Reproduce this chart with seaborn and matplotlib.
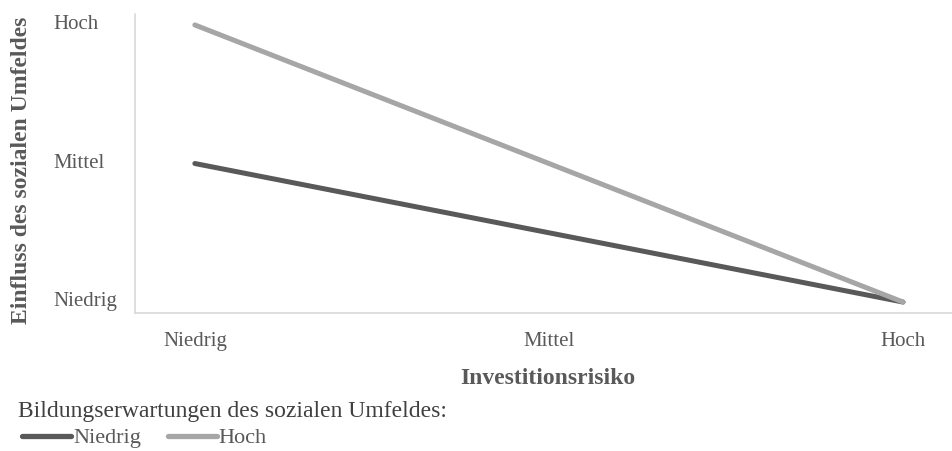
import pandas as pd
import numpy as np
import matplotlib.pyplot as plt
import matplotlib.transforms as mtransforms
import seaborn as sns

# Werte aus der Abbildung (0 = Niedrig, 1 = Mittel, 2 = Hoch)
stufen = ["Niedrig", "Mittel", "Hoch"]
risiko = [0, 1, 2]
einfluss_niedrig = [1.0, 0.5, 0.0]
einfluss_hoch = [2.0, 1.0, 0.0]
gruppen = ["Niedrig", "Hoch"]

data = pd.DataFrame({
    "Investitionsrisiko": risiko + risiko,
    "Einfluss": einfluss_niedrig + einfluss_hoch,
    "Gruppe": [gruppen[0]] * 3 + [gruppen[1]] * 3,
})

sns.set_style("white")
plt.rcParams['font.family'] = ['Liberation Serif', 'DejaVu Serif']

fig = plt.figure(figsize=(9.53, 4.51), dpi=100)
ax = fig.add_axes([135 / 953, 1 - 313 / 451, 1 - 135 / 953, (313 - 14) / 451])

sns.lineplot(data=data, x="Investitionsrisiko", y="Einfluss", hue="Gruppe",
             palette={"Niedrig": "#595959", "Hoch": "#a6a6a6"},
             linewidth=3.6, ax=ax, legend=False)
for ln in ax.lines:
    ln.set_solid_capstyle("round")

ax.set_xlim(-0.169, 2.141)
ax.set_ylim(-0.079, 2.079)
ax.set_xticks(risiko)
ax.set_xticklabels(stufen)
ax.set_yticks(risiko)
ax.set_yticklabels(stufen)

ax.tick_params(axis="x", length=0, pad=14, labelsize=15, labelcolor="#595959")
ax.tick_params(axis="y", length=0, pad=59, labelsize=15, labelcolor="#595959")
shift = mtransforms.ScaledTranslation(0, 3 / 100, fig.dpi_scale_trans)
for lab in ax.get_yticklabels():
    lab.set_horizontalalignment("left")
    lab.set_transform(lab.get_transform() + shift)

for s in ["top", "right"]:
    ax.spines[s].set_visible(False)
for s in ["left", "bottom"]:
    ax.spines[s].set_color("#d9d9d9")
    ax.spines[s].set_linewidth(1.2)

ax.set_xlabel("Investitionsrisiko", fontsize=17, fontweight="bold", color="#595959", va="center")
ax.set_ylabel("Einfluss des sozialen Umfeldes", fontsize=17, fontweight="bold", color="#595959", va="center")
ax.xaxis.set_label_coords(0.505, -0.22)
ax.yaxis.set_label_coords(-0.139, 0.478)

# Legende: Titel als eigener Text, Einträge darunter
fig.text(18 / 953, 1 - 411 / 451, "Bildungserwartungen des sozialen Umfeldes:",
         fontsize=17, color="#404040", va="center", ha="left")
handles = [plt.Line2D([], [], color="#595959", linewidth=3.8),
           plt.Line2D([], [], color="#a6a6a6", linewidth=3.8)]
leg = fig.legend(handles, gruppen, loc="center left",
                 bbox_to_anchor=(22 / 953, 1 - 438 / 451),
                 ncol=2, frameon=False, fontsize=16,
                 handlelength=2.2, handletextpad=0.1, columnspacing=1.2,
                 borderpad=0, borderaxespad=0)
for t in leg.get_texts():
    t.set_color("#595959")

fig.savefig("out.png", dpi=100)
